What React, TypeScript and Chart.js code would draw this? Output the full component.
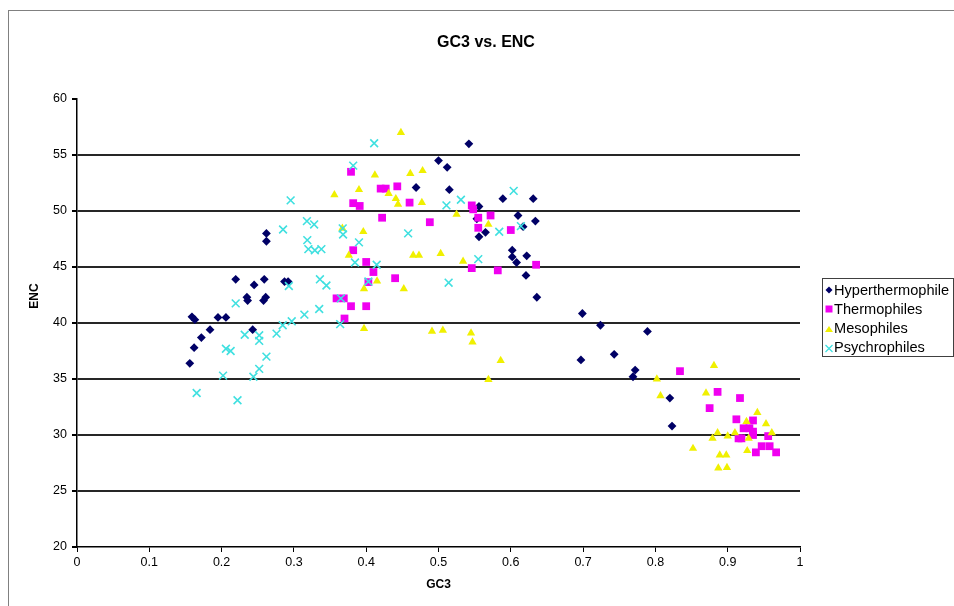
import { useEffect, useRef } from 'react';
import { Chart, registerables } from 'chart.js';

Chart.register(...registerables);

const chartTitle = 'GC3 vs. ENC';
const xAxisTitle = 'GC3';
const yAxisTitle = 'ENC';
const seriesNames = ['Hyperthermophile', 'Thermophiles', 'Mesophiles', 'Psychrophiles'];
const xTickLabels = ['0', '0.1', '0.2', '0.3', '0.4', '0.5', '0.6', '0.7', '0.8', '0.9', '1'];
const yTickLabels = ['20', '25', '30', '35', '40', '45', '50', '55', '60'];

const hyperthermophile: [number, number][] = [
  [0.156, 36.4], [0.162, 37.8], [0.172, 38.7], [0.159, 40.55], [0.163, 40.3], [0.184, 39.4],
  [0.195, 40.5], [0.206, 40.5], [0.2195, 43.9], [0.235, 42.3], [0.236, 42.0], [0.243, 39.4],
  [0.245, 43.4], [0.259, 43.9], [0.258, 42.0], [0.261, 42.3], [0.262, 48.0], [0.262, 47.3],
  [0.287, 43.7], [0.292, 43.7], [0.469, 52.1], [0.5, 54.5], [0.512, 53.9], [0.515, 51.9],
  [0.542, 56.0], [0.553, 49.3], [0.556, 50.4], [0.556, 47.7], [0.565, 48.1], [0.589, 51.1],
  [0.602, 46.5], [0.602, 45.9], [0.608, 45.4], [0.61, 49.6], [0.617, 48.6], [0.621, 44.25],
  [0.622, 46.0], [0.631, 51.1], [0.634, 49.1], [0.636, 42.3], [0.699, 40.85], [0.697, 36.7],
  [0.724, 39.8], [0.743, 37.2], [0.769, 35.2], [0.772, 35.8], [0.789, 39.25], [0.82, 33.3],
  [0.823, 30.8],
];

const thermophiles: [number, number][] = [
  [0.47, 60.8], [0.379, 53.5], [0.42, 52.0], [0.427, 52.0], [0.443, 52.2], [0.382, 50.7],
  [0.391, 50.45], [0.46, 50.75], [0.422, 49.4], [0.488, 49.0], [0.546, 50.5], [0.548, 50.15],
  [0.555, 49.4], [0.572, 49.6], [0.555, 48.5], [0.6, 48.3], [0.382, 46.5], [0.4, 45.45],
  [0.41, 44.55], [0.546, 44.9], [0.582, 44.7], [0.635, 45.2], [0.403, 43.65], [0.44, 44.0],
  [0.359, 42.2], [0.369, 42.2], [0.379, 41.5], [0.4, 41.5], [0.37, 40.4], [0.834, 35.7],
  [0.886, 33.85], [0.917, 33.3], [0.875, 32.4], [0.912, 31.4], [0.935, 31.3], [0.922, 30.6],
  [0.93, 30.6], [0.935, 30.3], [0.915, 29.7], [0.919, 29.7], [0.935, 30.0], [0.956, 29.9],
  [0.947, 29.0], [0.958, 29.0], [0.939, 28.45], [0.967, 28.45],
];

const mesophiles: [number, number][] = [
  [0.448, 57.0], [0.412, 53.2], [0.461, 53.35], [0.478, 53.6], [0.39, 51.9], [0.356, 51.45],
  [0.431, 51.55], [0.441, 51.1], [0.444, 50.6], [0.477, 50.75], [0.525, 49.7], [0.569, 48.8],
  [0.367, 48.45], [0.396, 48.15], [0.376, 46.05], [0.465, 46.05], [0.473, 46.05], [0.503, 46.2],
  [0.534, 45.5], [0.415, 43.75], [0.397, 43.05], [0.452, 43.05], [0.397, 39.5], [0.491, 39.25],
  [0.506, 39.35], [0.545, 39.1], [0.547, 38.3], [0.586, 36.65], [0.569, 34.95], [0.802, 35.0],
  [0.807, 33.5], [0.881, 36.2], [0.87, 33.75], [0.941, 32.0], [0.926, 31.2], [0.953, 31.0],
  [0.961, 30.2], [0.886, 30.2], [0.879, 29.7], [0.9, 29.9], [0.91, 30.2], [0.929, 29.7],
  [0.852, 28.8], [0.927, 28.6], [0.889, 28.2], [0.898, 28.2], [0.887, 27.05], [0.899, 27.1],
];

const psychrophiles: [number, number][] = [
  [0.2955, 50.95], [0.285, 48.35], [0.318, 49.1], [0.328, 48.8], [0.3185, 47.4], [0.32, 46.6],
  [0.329, 46.5], [0.338, 46.6], [0.336, 43.9], [0.345, 43.35], [0.293, 43.3], [0.2195, 41.75],
  [0.335, 41.25], [0.3145, 40.75], [0.297, 40.15], [0.2845, 39.8], [0.276, 39.05], [0.232, 38.95],
  [0.252, 38.9], [0.252, 38.4], [0.206, 37.7], [0.2125, 37.5], [0.262, 37.0], [0.252, 35.9],
  [0.244, 35.2], [0.202, 35.3], [0.1655, 33.75], [0.222, 33.1], [0.364, 39.9], [0.3845, 45.4],
  [0.4145, 45.2], [0.403, 43.7], [0.514, 43.6], [0.411, 56.05], [0.382, 54.05], [0.511, 50.5],
  [0.531, 51.0], [0.604, 51.8], [0.458, 48.0], [0.584, 48.15], [0.39, 47.2], [0.3675, 48.45],
  [0.368, 47.9], [0.555, 45.7], [0.614, 48.65], [0.47, 60.8], [0.365, 42.2],
];

const seriesData = [hyperthermophile, thermophiles, mesophiles, psychrophiles];
const seriesColors = ['#000066', '#F000F0', '#F0F000', '#40E0E0'];
const seriesStyles = ['rectRot', 'rect', 'triangle', 'crossRot'];
const seriesRadius = [4.4, 5.5, 4.8, 5.5];

const FONT = '"Liberation Sans", Arial, sans-serif';

export default function App() {
  const ref = useRef<HTMLCanvasElement>(null);

  useEffect(() => {
    if (!ref.current) return;

    const deco = {
      id: 'deco',
      afterDraw(chart: any) {
        const ctx = chart.ctx as CanvasRenderingContext2D;
        const area = chart.chartArea;
        ctx.save();
        // outer frame
        ctx.strokeStyle = '#808080';
        ctx.lineWidth = 1;
        ctx.strokeRect(8.5, 10.5, 1000, 700);
        // title
        ctx.fillStyle = '#000';
        ctx.textAlign = 'center';
        ctx.textBaseline = 'middle';
        ctx.font = `bold 16px ${FONT}`;
        ctx.fillText(chartTitle, 486, 43);
        // axis titles
        ctx.font = `bold 12px ${FONT}`;
        ctx.fillText(xAxisTitle, (area.left + area.right) / 2, 585);
        ctx.save();
        ctx.translate(35, 296);
        ctx.rotate(-Math.PI / 2);
        ctx.fillText(yAxisTitle, 0, 0);
        ctx.restore();
        // legend
        const lx = 822.5, ly = 278.5, lw = 131, lh = 78;
        ctx.fillStyle = '#fff';
        ctx.fillRect(lx, ly, lw, lh);
        ctx.strokeStyle = '#404040';
        ctx.lineWidth = 1;
        ctx.strokeRect(lx, ly, lw, lh);
        ctx.font = `14.6px ${FONT}`;
        ctx.textAlign = 'left';
        seriesNames.forEach((name, i) => {
          const cy = 290 + i * 19;
          const mx = 829;
          const c = seriesColors[i];
          ctx.fillStyle = c;
          ctx.strokeStyle = c;
          ctx.beginPath();
          if (i === 0) {
            ctx.moveTo(mx - 3.5, cy); ctx.lineTo(mx, cy - 3.5); ctx.lineTo(mx + 3.5, cy); ctx.lineTo(mx, cy + 3.5);
            ctx.closePath(); ctx.fill();
          } else if (i === 1) {
            ctx.rect(mx - 3.5, cy - 3.5, 7, 7); ctx.fill();
          } else if (i === 2) {
            ctx.moveTo(mx, cy - 2); ctx.lineTo(mx + 4, cy + 4); ctx.lineTo(mx - 4, cy + 4);
            ctx.closePath(); ctx.fill();
          } else {
            ctx.lineWidth = 1.3;
            ctx.moveTo(mx - 3.5, cy - 2); ctx.lineTo(mx + 3.5, cy + 5);
            ctx.moveTo(mx + 3.5, cy - 2); ctx.lineTo(mx - 3.5, cy + 5);
            ctx.stroke();
          }
          ctx.fillStyle = '#000';
          ctx.fillText(name, 834, cy + 1);
        });
        ctx.restore();
      },
    };

    const datasets = seriesData.map((arr, i) => ({
      label: seriesNames[i],
      data: arr.map(([x, y]) => ({ x, y })),
      pointStyle: seriesStyles[i],
      pointRadius: seriesRadius[i],
      pointHoverRadius: seriesRadius[i],
      backgroundColor: seriesColors[i],
      borderColor: seriesColors[i],
      borderWidth: i === 3 ? 1.6 : 0,
      showLine: false,
      clip: false as any,
      order: 3 - i,
    }));

    const chart = new Chart(ref.current, {
      type: 'scatter',
      data: { datasets },
      plugins: [deco],
      options: {
        responsive: false,
        animation: false,
        devicePixelRatio: 1,
        layout: { padding: { left: 0, right: 154, top: 99, bottom: 19 } },
        plugins: {
          legend: { display: false },
          title: { display: false },
          tooltip: { enabled: false },
        },
        scales: {
          x: {
            type: 'linear',
            min: 0,
            max: 1,
            afterFit: (s: any) => { s.height = 40; },
            ticks: {
              stepSize: 0.1,
              color: '#000',
              font: { family: FONT, size: 12.5 },
              padding: 3,
              callback: (_v: any, i: number) => xTickLabels[i],
            },
            grid: { drawOnChartArea: false, drawTicks: true, tickLength: 5, tickColor: '#000', color: '#000' },
            border: { display: true, color: '#000', width: 1.5 },
          },
          y: {
            type: 'linear',
            min: 20,
            max: 60,
            afterFit: (s: any) => { s.width = 77; },
            ticks: {
              stepSize: 5,
              color: '#000',
              font: { family: FONT, size: 12.5 },
              padding: 5,
              callback: (_v: any, i: number) => yTickLabels[i],
            },
            grid: {
              drawTicks: true,
              tickLength: 5,
              tickColor: '#000',
              lineWidth: 2,
              color: (c: any) => (c.tick && (c.tick.value === 60 || c.tick.value === 20) ? 'rgba(0,0,0,0)' : '#262626'),
            },
            border: { display: true, color: '#000', width: 1.5 },
          },
        },
      },
    });
    return () => chart.destroy();
  }, []);

  return (
    <div style={{ position: 'fixed', left: 0, top: 0, width: 954, height: 606, background: '#fff' }}>
      <canvas ref={ref} width={954} height={606} style={{ display: 'block' }} />
    </div>
  );
}
